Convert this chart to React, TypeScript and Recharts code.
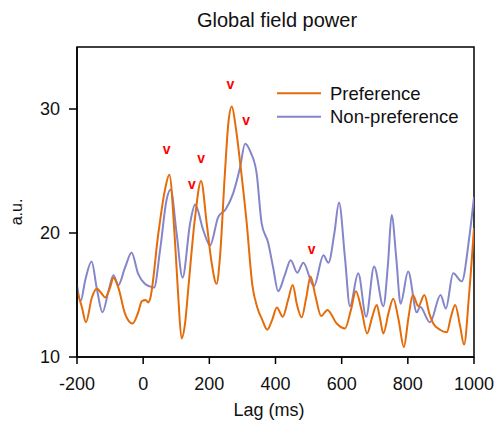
import React from 'react';
import {
  ComposedChart,
  Line,
  Scatter,
  XAxis,
  YAxis,
  Label,
  ReferenceArea,
} from 'recharts';

const FONT = '"Liberation Sans", Arial, sans-serif';
const ORANGE = '#E46C0A';
const BLUE = '#8585CA';

// Preference (orange) trace
const prefLag = [
  -200, -185, -173, -155, -140, -125, -115, -100, -90, -75, -55, -32, -15, -4, 8, 15, 21, 46, 66, 79,
  96, 106, 116, 127, 136, 157, 175, 192, 207, 222, 232, 247, 258, 268, 280, 293, 313, 330, 345, 360,
  375, 390, 404, 422, 438, 452, 465, 479, 493, 506, 520, 538, 557, 585, 610, 628, 643, 660, 677, 692,
  706, 716, 726, 742, 756, 772, 788, 802, 815, 832, 850, 865, 877, 897, 918, 930, 943, 958, 970, 985, 1000,
];
const prefValue = [
  15.3, 14.0, 12.8, 14.8, 15.5, 15.1, 14.8, 15.6, 16.4, 15.6, 13.5, 12.7, 13.6, 14.5, 14.6, 14.4, 14.7, 20.0, 23.5, 24.7,
  19.4, 14.9, 11.5, 12.8, 15.4, 21.3, 24.2, 20.8, 17.6, 15.9, 18.0, 24.8, 29.0, 30.2, 28.5, 25.7, 20.8, 15.8, 14.0, 13.0,
  12.2, 13.0, 14.0, 13.25, 14.6, 15.8, 14.2, 13.2, 14.8, 16.5, 15.0, 13.3, 13.8, 12.7, 12.3, 13.8, 15.3, 13.8, 11.9, 13.2,
  14.2, 13.1, 11.9, 13.6, 14.7, 13.0, 10.8, 13.2, 15.0, 14.1, 15.0, 13.5, 12.7, 12.2, 12.0, 13.2, 14.2, 12.5, 11.0, 15.0, 20.4,
];

// Non-preference (blue) trace
const nonPrefLag = [
  -200, -189, -175, -156, -140, -123, -105, -90, -75, -55, -35, -15, 5, 20, 33, 51, 71, 83, 101, 119,
  142, 157, 182, 202, 227, 249, 272, 293, 308, 325, 343, 358, 378, 393, 408, 428, 446, 466, 484, 516,
  545, 560, 578, 592, 610, 625, 650, 674, 698, 726, 740, 751, 765, 778, 801, 827, 837, 867, 899, 915,
  937, 963, 985, 1000,
];
const nonPrefValue = [
  15.8, 14.5, 16.2, 17.7, 15.5, 13.6, 15.3, 16.6, 15.8, 17.2, 18.4, 16.7, 15.9, 15.7, 15.6, 18.6, 22.7, 23.5, 20.0, 16.4,
  20.8, 22.3, 20.2, 19.0, 21.3, 21.9, 23.2, 25.3, 27.2, 26.5, 24.8, 20.8, 19.2, 17.2, 15.3, 16.6, 17.8, 16.8, 17.6, 15.7,
  18.2, 17.6, 20.0, 22.45, 18.0, 14.1, 16.75, 13.25, 17.3, 14.1, 17.5, 21.45, 18.0, 14.3, 16.9, 13.6, 14.05, 12.8, 15.0, 13.9,
  16.75, 16.1, 19.5, 22.9,
];

// red "v" peak markers
const markerLag = [71, 147, 175, 264, 311, 509];
const markerValue = [26.7, 23.9, 26.0, 31.9, 29.0, 18.6];

const xTicks = [-200, 0, 200, 400, 600, 800, 1000];
const yTicks = [10, 20, 30];

const seriesNames = ['Preference', 'Non-preference'];

const prefData = prefLag.map((lag, i) => ({ lag, value: prefValue[i] }));
const nonPrefData = nonPrefLag.map((lag, i) => ({ lag, value: nonPrefValue[i] }));
const markerData = markerLag.map((lag, i) => ({ lag, value: markerValue[i] }));

function VMark(props: any) {
  const { cx, cy } = props;
  return (
    <text x={cx} y={cy + 4} textAnchor="middle" fill="#FF0000" fontSize={14} fontWeight="bold" fontFamily={FONT}>
      v
    </text>
  );
}

function LegendBox() {
  const colors = [ORANGE, BLUE];
  return (
    <svg width={190} height={48} style={{ display: 'block' }}>
      {seriesNames.map((name, i) => (
        <g key={name}>
          <line x1={0} x2={44} y1={11.3 + i * 23.4} y2={11.3 + i * 23.4} stroke={colors[i]} strokeWidth={2} />
          <text x={53} y={18 + i * 23.4} fontSize={18.5} fontFamily={FONT} fill="#111">
            {name}
          </text>
        </g>
      ))}
    </svg>
  );
}

export default function App() {
  return (
    <div style={{ position: 'absolute', left: 0, top: 0, width: 494, height: 421, background: '#fff' }}>
      <div
        style={{
          position: 'absolute',
          left: 0,
          width: 554,
          top: 10,
          textAlign: 'center',
          fontFamily: FONT,
          fontSize: 20,
          lineHeight: '20px',
          color: '#111',
        }}
      >
        Global field power
      </div>
      <ComposedChart width={494} height={421} margin={{ top: 47, right: 20, left: 17, bottom: 5 }}>
        <XAxis
          type="number"
          dataKey="lag"
          domain={[-200, 1000]}
          ticks={xTicks}
          allowDataOverflow
          stroke="#000"
          strokeWidth={1.5}
          tickSize={7}
          tickMargin={13}
          height={59}
          tick={{ fill: '#111', fontSize: 18, fontFamily: FONT }}
        >
          <Label
            content={() => (
              <text x={269} y={416} textAnchor="middle" fontSize={18} fontFamily={FONT} fill="#111">
                Lag (ms)
              </text>
            )}
          />
        </XAxis>
        <YAxis
          type="number"
          dataKey="value"
          domain={[10, 35]}
          ticks={yTicks}
          allowDataOverflow
          stroke="#000"
          strokeWidth={1.5}
          tickSize={8}
          tickMargin={9}
          width={60}
          tick={{ fill: '#111', fontSize: 18, fontFamily: FONT }}
        >
          <Label
            content={() => (
              <text
                x={22}
                y={212}
                transform="rotate(-90 22 212)"
                textAnchor="middle"
                fontSize={16}
                fontFamily={FONT}
                fill="#111"
              >
                a.u.
              </text>
            )}
          />
        </YAxis>
        <ReferenceArea x1={-200} x2={1000} y1={10} y2={35} fill="none" stroke="#000" strokeWidth={1.5} />
        <Line
          data={nonPrefData}
          dataKey="value"
          type="monotone"
          stroke={BLUE}
          strokeWidth={2}
          dot={false}
          activeDot={false}
          isAnimationActive={false}
          name={seriesNames[1]}
        />
        <Line
          data={prefData}
          dataKey="value"
          type="monotone"
          stroke={ORANGE}
          strokeWidth={2}
          dot={false}
          activeDot={false}
          isAnimationActive={false}
          name={seriesNames[0]}
        />
        <Scatter data={markerData} dataKey="value" shape={<VMark />} isAnimationActive={false} legendType="none" />
      </ComposedChart>
      <div style={{ position: 'absolute', left: 277, top: 82 }}>
        <LegendBox />
      </div>
    </div>
  );
}
